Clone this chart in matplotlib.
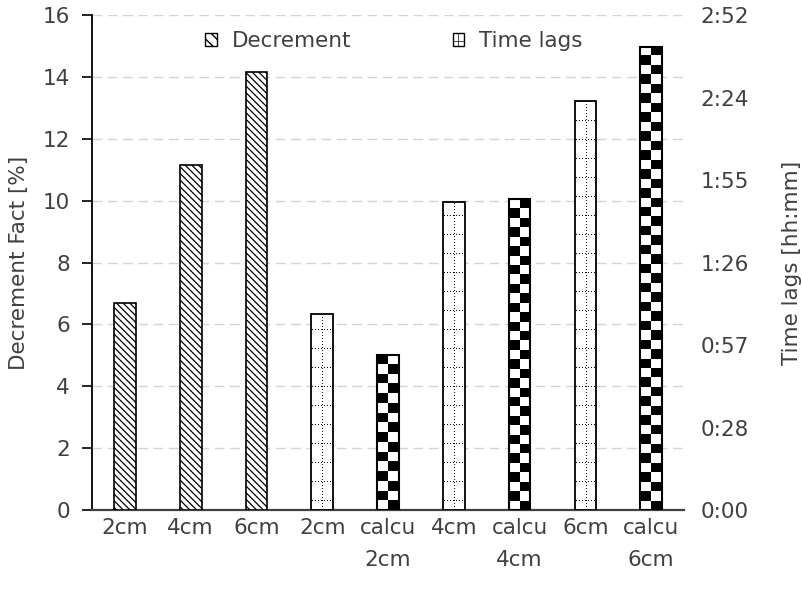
import numpy as np
import matplotlib
matplotlib.use('Agg')
import matplotlib.pyplot as plt
from matplotlib.patches import Patch

plt.rcParams['font.family'] = ['DejaVu Sans']

# data
categories = ['2cm', '4cm', '6cm', '2cm', 'calcu\n2cm', '4cm', 'calcu\n4cm', '6cm', 'calcu\n6cm']
dec_pos = [0, 1, 2]
decrement = [6.7, 11.15, 14.15]          # %
lag_pos = [3, 5, 7]
time_lags = [68, 107, 142]               # minutes, measured
calc_pos = [4, 6, 8]
calc_lags = [54, 108, 161]               # minutes, calculated
lag_max = 172
lag_ticklabels = ['0:00', '0:28', '0:57', '1:26', '1:55', '2:24', '2:52']

txt = '#404040'
fs = 15.5
w = 0.33

fig = plt.figure(figsize=(8.02, 5.97), dpi=100)
ax = fig.add_axes([0.1147, 0.1457, 0.7383, 0.8291])
ax2 = ax.twinx()

ax.set_xlim(-0.5, len(categories) - 0.5)
ax.set_ylim(0, 16)
ax2.set_ylim(0, lag_max)

b1 = ax.bar(dec_pos, decrement, w, color='white', edgecolor='black', lw=1.2,
            hatch='\\\\\\\\\\', zorder=3)
for p in b1:
    p.set_hatch_linewidth(0.9)

b2 = ax2.bar(lag_pos, time_lags, w, color='white', edgecolor='none', zorder=2)
b3 = ax2.bar(calc_pos, calc_lags, w, color='white', edgecolor='none', zorder=2)
fig.canvas.draw()


def px_size(a, x, v):
    p0 = a.transData.transform((x - w / 2, 0))
    p1 = a.transData.transform((x + w / 2, v))
    return int(round(p1[0] - p0[0])), int(round(p1[1] - p0[1]))


# dotted grid pattern for measured time lags
for p, v, x in zip(b2, time_lags, lag_pos):
    wp, hp = px_size(ax2, x, v)
    r, c = np.indices((hp, wp))
    dots = ((c == wp // 2) & (r % 3 == 0)) | ((r % 19 == 9) & (c % 3 == 1))
    im = ax2.imshow(np.where(dots, 1, 0), cmap='gray_r', vmin=0, vmax=1.05,
                    interpolation='nearest', extent=[x - w / 2, x + w / 2, 0, v],
                    origin='lower', aspect='auto', zorder=3)
    im.set_clip_path(p)

# checkerboard for calculated bars
for p, v, x in zip(b3, calc_lags, calc_pos):
    wp, hp = px_size(ax2, x, v)
    rows = max(1, int(round(hp / 9.4)))
    chk = np.indices((rows, 2)).sum(axis=0) % 2
    im = ax2.imshow(chk, cmap='gray_r', vmin=0, vmax=1, interpolation='nearest',
                    extent=[x - w / 2, x + w / 2, 0, v], origin='lower',
                    aspect='auto', zorder=3)
    im.set_clip_path(p)

ax2.bar(lag_pos, time_lags, w, facecolor='none', edgecolor='black', lw=1.3, zorder=4)
ax2.bar(calc_pos, calc_lags, w, facecolor='none', edgecolor='black', lw=1.5, zorder=4)
ax.set_xlim(-0.5, len(categories) - 0.5)
ax2.set_ylim(0, lag_max)

# grid and axes styling
ax.set_yticks(range(0, 17, 2))
ax.yaxis.grid(True, ls=(0, (7, 4)), color='#d4d4d4', lw=1)
ax.set_axisbelow(True)
ax.set_xticks(range(len(categories)))
ax.set_xticklabels(categories, linespacing=1.7, va='top')
ax.tick_params(axis='x', length=0, pad=6, labelsize=fs, labelcolor=txt)
ax.tick_params(axis='y', length=7, width=1.2, pad=9, labelsize=fs, labelcolor=txt)
ax2.set_yticks(np.linspace(0, lag_max, 7))
ax2.set_yticklabels(lag_ticklabels)
ax2.tick_params(axis='y', length=0, pad=12, labelsize=fs, labelcolor=txt)

for s in ['top', 'right']:
    ax.spines[s].set_visible(False)
    ax2.spines[s].set_visible(False)
ax2.spines['left'].set_visible(False)
ax2.spines['bottom'].set_visible(False)
ax.spines['left'].set_linewidth(1.3)
ax.spines['bottom'].set_linewidth(1.6)
ax.spines['bottom'].set_color('#404040')

ax.set_ylabel('Decrement Fact [%]', fontsize=fs, color=txt)
ax.yaxis.set_label_coords(-0.107, 0.5)
ax2.set_ylabel('Time lags [hh:mm]', fontsize=fs, color=txt)
ax2.yaxis.set_label_coords(1.165, 0.5)

h1 = Patch(facecolor='white', edgecolor='black', hatch='\\\\\\', lw=1.0)
h2 = Patch(facecolor='white', edgecolor='black', hatch='+', lw=1.0)
leg = ax2.legend([h1, h2], ['Decrement', 'Time lags'], loc='upper center',
                 bbox_to_anchor=(0.51, 1.006), ncol=2, frameon=False, fontsize=fs,
                 labelcolor=txt, handlelength=0.55, handleheight=0.55,
                 handletextpad=0.7, columnspacing=4.7)
leg.legend_handles[1].set_hatch_linewidth(0.5)

fig.savefig('out.png', dpi=100)
